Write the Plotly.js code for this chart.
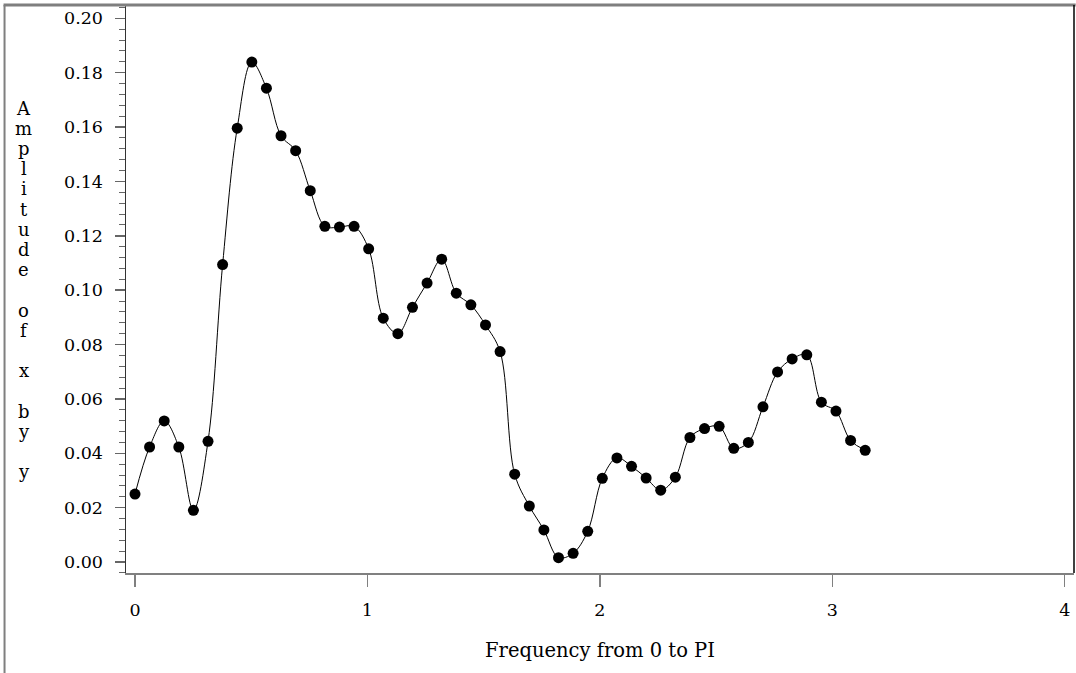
<!DOCTYPE html>
<html>
<head>
<meta charset="utf-8">
<script src="https://cdn.plot.ly/plotly-3.0.1.min.js"></script>
<style>
html,body{margin:0;padding:0;background:#fff;}
#chart{width:1076px;height:673px;}
</style>
</head>
<body>
<div id="chart"></div>
<script>
// Frequencies from 0 to PI (51 points)
const frequency = [
  0.0000, 0.0628, 0.1257, 0.1885, 0.2513, 0.3142, 0.3770, 0.4398, 0.5027, 0.5655,
  0.6283, 0.6912, 0.7540, 0.8168, 0.8796, 0.9425, 1.0053, 1.0681, 1.1310, 1.1938,
  1.2566, 1.3195, 1.3823, 1.4451, 1.5080, 1.5708, 1.6336, 1.6965, 1.7593, 1.8221,
  1.8850, 1.9478, 2.0106, 2.0735, 2.1363, 2.1991, 2.2619, 2.3248, 2.3876, 2.4504,
  2.5133, 2.5761, 2.6389, 2.7018, 2.7646, 2.8274, 2.8903, 2.9531, 3.0159, 3.0788,
  3.1416
];
// Amplitude of x by y
const amplitude = [
  0.0250, 0.0423, 0.0519, 0.0423, 0.0190, 0.0444, 0.1094, 0.1596, 0.1839, 0.1743,
  0.1568, 0.1513, 0.1366, 0.1235, 0.1232, 0.1235, 0.1152, 0.0897, 0.0840, 0.0937,
  0.1026, 0.1114, 0.0989, 0.0946, 0.0872, 0.0774, 0.0323, 0.0206, 0.0118, 0.0016,
  0.0032, 0.0113, 0.0308, 0.0383, 0.0352, 0.0309, 0.0264, 0.0312, 0.0458, 0.0491,
  0.0499, 0.0418, 0.0440, 0.0571, 0.0699, 0.0747, 0.0762, 0.0588, 0.0555, 0.0447,
  0.0411
];
const xTickVals = [0, 1, 2, 3, 4];
const xTickText = ['0', '1', '2', '3', '4'];
const yTickVals = [0, 0.02, 0.04, 0.06, 0.08, 0.10, 0.12, 0.14, 0.16, 0.18, 0.20];
const yTickText = ['0.00','0.02','0.04','0.06','0.08','0.10','0.12','0.14','0.16','0.18','0.20'];
const xTitle = 'Frequency from 0 to PI';
const yTitle = 'Amplitude of x by y';

const W = 1076, H = 673;
const M = {l: 126, r: 1.7, t: 5, b: 100.3};
const PW = W - M.l - M.r, PH = H - M.t - M.b;
const FONT = 'DejaVu Serif, Liberation Serif, serif';

function px2paperX(px){ return (px - M.l) / PW; }
function px2paperY(py){ return (H - M.b - py) / PH; }

const trace = {
  x: frequency,
  y: amplitude,
  type: 'scatter',
  mode: 'lines+markers',
  line: {color: '#000', width: 1, shape: 'spline', smoothing: 1},
  marker: {color: '#000', size: 11, symbol: 'circle'},
  cliponaxis: false,
  hoverinfo: 'x+y'
};

// vertical, letter-by-letter y-axis label
const annotations = [];
const chars = yTitle.split('');
chars.forEach((c, i) => {
  if (c === ' ') return;
  annotations.push({
    text: c,
    xref: 'paper', yref: 'paper',
    x: px2paperX(23.5), y: px2paperY(108 + i * 20.2),
    xanchor: 'center', yanchor: 'middle',
    showarrow: false,
    font: {family: FONT, size: 18, color: '#000'}
  });
});

const shapes = [
  // outer top frame line
  {type: 'line', xref: 'paper', yref: 'paper',
   x0: px2paperX(3.5), x1: px2paperX(1076), y0: px2paperY(5), y1: px2paperY(5),
   line: {color: '#7f7f7f', width: 3}},
  // outer left frame line
  {type: 'line', xref: 'paper', yref: 'paper',
   x0: px2paperX(4.5), x1: px2paperX(4.5), y0: px2paperY(5), y1: px2paperY(673),
   line: {color: '#7f7f7f', width: 2}},
  // right border of plot
  {type: 'line', xref: 'paper', yref: 'paper',
   x0: 1, x1: 1, y0: 0, y1: px2paperY(5),
   line: {color: '#000', width: 1.5}}
];

const layout = {
  width: W, height: H,
  margin: M,
  paper_bgcolor: '#fff',
  plot_bgcolor: '#fff',
  showlegend: false,
  font: {family: FONT, color: '#000', size: 17.5},
  xaxis: {
    range: [-0.0387, 4.040],
    tickvals: xTickVals, ticktext: xTickText,
    ticks: 'outside', ticklen: 12, tickwidth: 1.5, tickcolor: '#808080',
    ticklabelstandoff: 8,
    showline: true, linecolor: '#808080', linewidth: 2,
    showgrid: false, zeroline: false,
    tickfont: {family: FONT, size: 17.5, color: '#000'},
    title: {text: xTitle, font: {family: FONT, size: 19.5, color: '#000'}, standoff: 24},
    automargin: false
  },
  yaxis: {
    range: [-0.00405, 0.2049],
    tickvals: yTickVals, ticktext: yTickText,
    ticks: 'outside', ticklen: 10, tickwidth: 1.5, tickcolor: '#666',
    ticklabelstandoff: 8,
    minor: {dtick: 0.004, ticks: 'outside', ticklen: 6, tickwidth: 1, tickcolor: '#666', showgrid: false},
    showline: true, linecolor: '#333', linewidth: 1.5,
    showgrid: false, zeroline: false,
    tickfont: {family: FONT, size: 17.5, color: '#000'},
    automargin: false
  },
  annotations: annotations,
  shapes: shapes
};

Plotly.newPlot('chart', [trace], layout, {displayModeBar: false, staticPlot: true});
</script>
</body>
</html>
